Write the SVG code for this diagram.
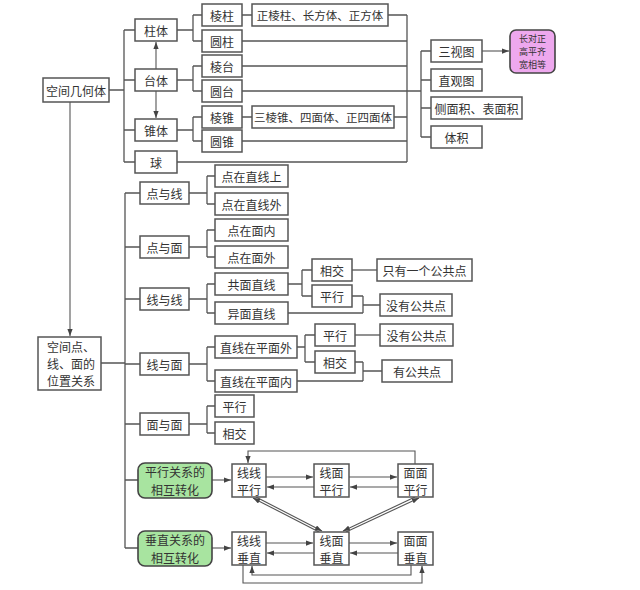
<svg xmlns="http://www.w3.org/2000/svg" width="640" height="590" viewBox="0 0 640 590">
<defs>
<marker id="ar" viewBox="0 0 8 6" refX="8" refY="3" markerWidth="7" markerHeight="5.5" markerUnits="userSpaceOnUse" orient="auto">
<path d="M0,0 L8,3 L0,6 z" fill="#444"/>
</marker>
<style>
.b{fill:#fff;stroke:#555;stroke-width:1.5}
.g{fill:#a8e4a0;stroke:#444;stroke-width:1.6}
.p{fill:#eea8ee;stroke:#444;stroke-width:1.6}
.c{fill:none;stroke:#555;stroke-width:1.3}
.a{fill:none;stroke:#555;stroke-width:1.1;marker-end:url(#ar)}
text{font-family:"Noto Sans CJK SC","Noto Sans",sans-serif;font-size:12px;fill:#333;text-anchor:middle;dominant-baseline:central}
.s{font-size:9px}
.l{text-anchor:start}
.t{font-size:11.5px}
</style>
</defs>
<rect width="640" height="590" fill="#fff"/>
<g id="connectors">
<path class="c" d="M109,90 H124 M124,30 V162 M124,30 H135 M124,80 H135 M124,130 H135 M124,162 H135"/>
<path class="a" d="M156,69 V42"/>
<path class="a" d="M156,91 V118"/>
<path class="c" d="M177,30 H193 M193,15 V41 M193,15 H202 M193,41 H202"/>
<path class="c" d="M177,80 H193 M193,66 V91 M193,66 H202 M193,91 H202"/>
<path class="c" d="M177,130 H193 M193,117 V141 M193,117 H202 M193,141 H202"/>
<path class="c" d="M242,15 H252 M242,117 H252"/>
<path class="c" d="M388,15 H407 M242,41 H407 M242,66 H407 M242,91 H407 M394,117 H407 M242,141 H407 M177,162 H407 M407,15 V162"/>
<path class="c" d="M407,91 H421 M421,51 V137 M421,51 H431 M421,80 H431 M421,108 H431 M421,137 H431"/>
<path class="a" d="M482,51 H509"/>
<path class="a" d="M70,102 V336"/>
<path class="c" d="M101,363 H125 M125,193 V548"/>
<path class="c" d="M125,193 H140 M125,247 H140 M125,299 H140 M125,364 H140 M125,424 H140 M125,480 H138 M125,548 H138"/>
<path class="c" d="M189,193 H207 M207,176 V204 M207,176 H215 M207,204 H215"/>
<path class="c" d="M189,247 H207 M207,230 V257 M207,230 H215 M207,257 H215"/>
<path class="c" d="M189,299 H207 M207,284 V313 M207,284 H215 M207,313 H215"/>
<path class="c" d="M288,284 H302 M302,270 V296 M302,270 H312 M302,296 H312"/>
<path class="c" d="M352,270 H377"/>
<path class="c" d="M352,296 H363 M288,313 H363 M363,296 V313 M363,305 H380"/>
<path class="c" d="M189,364 H207 M207,347 V381 M207,347 H215 M207,381 H215"/>
<path class="c" d="M297,347 H305 M305,335 V362 M305,335 H315 M305,362 H315"/>
<path class="c" d="M355,335 H380"/>
<path class="c" d="M355,362 H363 M297,381 H363 M363,362 V381 M363,371 H382"/>
<path class="c" d="M189,424 H207 M207,406 V433 M207,406 H215 M207,433 H215"/>
<path class="a" d="M212,480 H231"/>
<path class="a" d="M212,548 H231"/>
<path class="a" d="M266,477 H313"/>
<path class="a" d="M314,487 H267"/>
<path class="a" d="M349,477 H397"/>
<path class="a" d="M398,487 H350"/>
<path class="a" d="M415,464 V451 H248 V463"/>
<path class="a" d="M266,543 H313"/>
<path class="a" d="M314,553 H267"/>
<path class="a" d="M349,543 H397"/>
<path class="a" d="M398,553 H350"/>
<path class="a" d="M243,565 V583 H422 V566"/>
<path class="a" d="M411,565 V575 H252 V566"/>
<path class="a" d="M256,497 L322,531"/>
<path class="a" d="M319,532 L253,498"/>
<path class="a" d="M415,497 L343,531"/>
<path class="a" d="M346,532 L419,498"/>
</g>
<g id="n-kjjht"><rect class="b" x="43" y="78" width="66" height="24"/><text x="76" y="90">空间几何体</text></g>
<g id="n-zhuti"><rect class="b" x="135" y="19" width="42" height="22"/><text x="156" y="30">柱体</text></g>
<g id="n-taiti"><rect class="b" x="135" y="69" width="42" height="22"/><text x="156" y="80">台体</text></g>
<g id="n-zhuiti"><rect class="b" x="135" y="119" width="42" height="22"/><text x="156" y="130">锥体</text></g>
<g id="n-qiu"><rect class="b" x="135" y="151" width="42" height="22"/><text x="156" y="162">球</text></g>
<g id="n-lengzhu"><rect class="b" x="202" y="4" width="40" height="22"/><text x="222" y="15">棱柱</text></g>
<g id="n-yuanzhu"><rect class="b" x="202" y="30" width="40" height="22"/><text x="222" y="41">圆柱</text></g>
<g id="n-lengtai"><rect class="b" x="202" y="55" width="40" height="22"/><text x="222" y="66">棱台</text></g>
<g id="n-yuantai"><rect class="b" x="202" y="80" width="40" height="22"/><text x="222" y="91">圆台</text></g>
<g id="n-lengzhui"><rect class="b" x="202" y="106" width="40" height="22"/><text x="222" y="117">棱锥</text></g>
<g id="n-yuanzhui"><rect class="b" x="202" y="130" width="40" height="22"/><text x="222" y="141">圆锥</text></g>
<g id="n-zlz"><rect class="b" x="252" y="4" width="136" height="22"/><text class="t" x="320" y="15">正棱柱、长方体、正方体</text></g>
<g id="n-slz"><rect class="b" x="252" y="106" width="142" height="22"/><text class="t" x="323" y="117">三棱锥、四面体、正四面体</text></g>
<g id="n-sst"><rect class="b" x="431" y="40" width="51" height="22"/><text x="456.5" y="51">三视图</text></g>
<g id="n-zgt"><rect class="b" x="431" y="69" width="51" height="22"/><text x="456.5" y="80">直观图</text></g>
<g id="n-cmj"><rect class="b" x="431" y="97" width="91" height="22"/><text x="476.5" y="108">侧面积、表面积</text></g>
<g id="n-tj"><rect class="b" x="431" y="126" width="51" height="22"/><text x="456.5" y="137">体积</text></g>
<g id="n-cdz"><rect class="p" x="510" y="30" width="45" height="43" rx="6"/><text class="s" x="532.5" y="38.5">长对正</text><text class="s" x="532.5" y="51.5">高平齐</text><text class="s" x="532.5" y="64.5">宽相等</text></g>
<g id="n-wzgx"><rect class="b" x="38" y="337" width="63" height="53"/><text class="l" x="47" y="346">空间点、</text><text class="l" x="47" y="363">线、面的</text><text class="l" x="47" y="380">位置关系</text></g>
<g id="n-dyx"><rect class="b" x="140" y="182" width="49" height="22"/><text x="164.5" y="193">点与线</text></g>
<g id="n-dzzxs"><rect class="b" x="215" y="165" width="73" height="22"/><text x="251.5" y="176">点在直线上</text></g>
<g id="n-dzzxw"><rect class="b" x="215" y="193" width="73" height="22"/><text x="251.5" y="204">点在直线外</text></g>
<g id="n-dym"><rect class="b" x="140" y="236" width="49" height="22"/><text x="164.5" y="247">点与面</text></g>
<g id="n-dzmn"><rect class="b" x="215" y="219" width="73" height="22"/><text x="251.5" y="230">点在面内</text></g>
<g id="n-dzmw"><rect class="b" x="215" y="246" width="73" height="22"/><text x="251.5" y="257">点在面外</text></g>
<g id="n-xyx"><rect class="b" x="140" y="288" width="49" height="22"/><text x="164.5" y="299">线与线</text></g>
<g id="n-gmzx"><rect class="b" x="215" y="273" width="73" height="22"/><text x="251.5" y="284">共面直线</text></g>
<g id="n-ymzx"><rect class="b" x="215" y="302" width="73" height="22"/><text x="251.5" y="313">异面直线</text></g>
<g id="n-xj1"><rect class="b" x="312" y="259" width="40" height="22"/><text x="332" y="270">相交</text></g>
<g id="n-px1"><rect class="b" x="312" y="285" width="40" height="22"/><text x="332" y="296">平行</text></g>
<g id="n-zyyg"><rect class="b" x="377" y="259" width="95" height="22"/><text x="424.5" y="270">只有一个公共点</text></g>
<g id="n-mygg1"><rect class="b" x="380" y="294" width="72" height="22"/><text x="416" y="305">没有公共点</text></g>
<g id="n-xym"><rect class="b" x="140" y="353" width="49" height="22"/><text x="164.5" y="364">线与面</text></g>
<g id="n-zxpmw"><rect class="b" x="215" y="336" width="82" height="22"/><text x="256" y="347">直线在平面外</text></g>
<g id="n-zxpmn"><rect class="b" x="215" y="370" width="82" height="22"/><text x="256" y="381">直线在平面内</text></g>
<g id="n-px2"><rect class="b" x="315" y="324" width="40" height="22"/><text x="335" y="335">平行</text></g>
<g id="n-xj2"><rect class="b" x="315" y="351" width="40" height="22"/><text x="335" y="362">相交</text></g>
<g id="n-mygg2"><rect class="b" x="380" y="324" width="73" height="22"/><text x="416.5" y="335">没有公共点</text></g>
<g id="n-ygg"><rect class="b" x="382" y="360" width="70" height="22"/><text x="417" y="371">有公共点</text></g>
<g id="n-mym"><rect class="b" x="140" y="413" width="49" height="22"/><text x="164.5" y="424">面与面</text></g>
<g id="n-px3"><rect class="b" x="215" y="395" width="39" height="22"/><text x="234.5" y="406">平行</text></g>
<g id="n-xj3"><rect class="b" x="215" y="422" width="39" height="22"/><text x="234.5" y="433">相交</text></g>
<g id="n-pxzh"><rect class="g" x="138" y="463" width="74" height="35" rx="7"/><text x="175" y="471.5">平行关系的</text><text x="175" y="489.5">相互转化</text></g>
<g id="n-czzh"><rect class="g" x="138" y="531" width="74" height="35" rx="7"/><text x="175" y="539.5">垂直关系的</text><text x="175" y="557.5">相互转化</text></g>
<g id="n-xxpx"><rect class="b" x="232" y="464" width="34" height="33"/><text x="249" y="472">线线</text><text x="249" y="489">平行</text></g>
<g id="n-xmpx"><rect class="b" x="314" y="464" width="35" height="33"/><text x="331.5" y="472">线面</text><text x="331.5" y="489">平行</text></g>
<g id="n-mmpx"><rect class="b" x="398" y="464" width="35" height="33"/><text x="415.5" y="472">面面</text><text x="415.5" y="489">平行</text></g>
<g id="n-xxcz"><rect class="b" x="232" y="532" width="34" height="33"/><text x="249" y="540">线线</text><text x="249" y="557">垂直</text></g>
<g id="n-xmcz"><rect class="b" x="314" y="532" width="35" height="33"/><text x="331.5" y="540">线面</text><text x="331.5" y="557">垂直</text></g>
<g id="n-mmcz"><rect class="b" x="398" y="532" width="35" height="33"/><text x="415.5" y="540">面面</text><text x="415.5" y="557">垂直</text></g>
</svg>
